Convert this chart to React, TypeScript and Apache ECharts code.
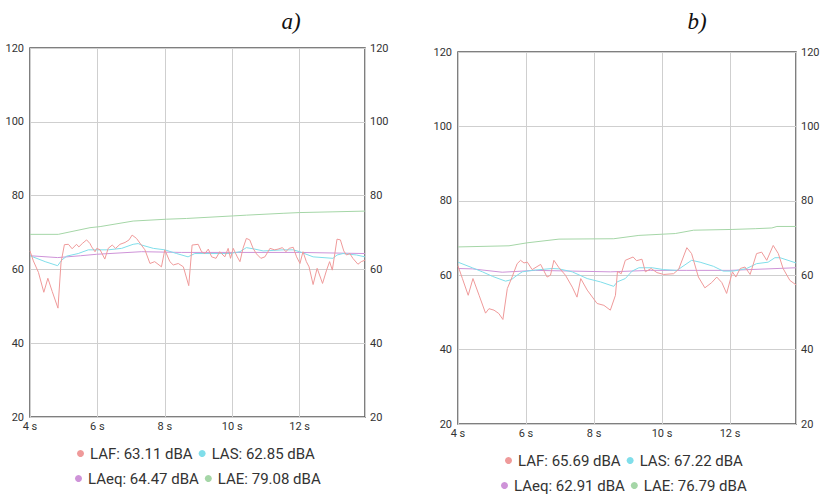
import React, { useEffect, useRef } from "react";
import * as echarts from "echarts";

type P = [number, number];

// ---- chart a) ----
const lafA: P[] = [
  [4.0, 65.0], [4.1, 62.3], [4.25, 59.2], [4.41, 53.8], [4.53, 57.6], [4.66, 54.0], [4.83, 49.5],
  [4.92, 61.8], [5.02, 66.7], [5.14, 66.8], [5.25, 65.6], [5.38, 66.8], [5.45, 66.1], [5.55, 67.0],
  [5.68, 68.0], [5.78, 67.0], [5.83, 66.1], [5.93, 64.8], [5.98, 65.7], [6.08, 65.3], [6.22, 62.8],
  [6.32, 65.7], [6.44, 66.6], [6.54, 65.7], [6.67, 66.8], [6.82, 67.3], [6.94, 68.0], [7.03, 69.3],
  [7.16, 68.4], [7.28, 66.9], [7.41, 65.3], [7.56, 61.6], [7.7, 62.1], [7.9, 60.7], [8.0, 65.3],
  [8.15, 62.1], [8.25, 61.2], [8.4, 61.6], [8.55, 60.7], [8.71, 55.6], [8.81, 66.6], [8.99, 66.8],
  [9.09, 64.8], [9.19, 64.3], [9.29, 65.5], [9.39, 63.4], [9.52, 63.0], [9.63, 64.8], [9.78, 63.4],
  [9.88, 65.7], [9.95, 63.0], [10.03, 65.7], [10.15, 63.4], [10.23, 62.1], [10.32, 65.7],
  [10.42, 68.4], [10.52, 68.0], [10.62, 65.7], [10.72, 64.2], [10.85, 63.0], [10.97, 63.4],
  [11.12, 65.7], [11.26, 65.3], [11.36, 65.5], [11.49, 65.9], [11.59, 64.8], [11.69, 65.7],
  [11.81, 66.0], [11.91, 63.4], [12.01, 61.6], [12.1, 64.8], [12.2, 62.1], [12.28, 60.7],
  [12.4, 55.9], [12.52, 60.3], [12.68, 56.2], [12.8, 59.8], [12.89, 62.1], [12.97, 59.8],
  [13.11, 68.2], [13.21, 68.0], [13.31, 65.0], [13.39, 63.9], [13.49, 64.3], [13.58, 63.0],
  [13.73, 61.4], [13.83, 62.1], [13.94, 62.5],
];
const lasA: P[] = [
  [4.0, 63.7], [4.45, 62.1], [4.82, 61.0], [4.94, 62.5], [5.09, 63.6], [5.43, 64.3], [5.73, 65.3],
  [6.0, 65.3], [6.32, 65.3], [6.72, 65.7], [7.06, 66.8], [7.21, 67.0], [7.31, 66.6], [7.66, 65.7],
  [8.0, 65.3], [8.35, 64.3], [8.69, 63.4], [8.89, 64.3], [9.19, 64.3], [9.93, 64.3], [10.23, 64.8],
  [10.42, 65.9], [10.67, 65.5], [10.92, 65.0], [11.51, 65.3], [11.81, 65.3], [12.0, 64.8],
  [12.4, 63.4], [12.99, 63.0], [13.11, 63.9], [13.29, 64.3], [13.69, 63.9], [13.94, 63.4],
];
const laeqA: P[] = [
  [4.0, 63.7], [4.82, 63.2], [5.5, 63.7], [5.98, 64.1], [7.31, 64.8], [8.5, 64.6], [10.0, 64.6],
  [12.0, 64.6], [13.94, 64.3],
];
const laeA: P[] = [
  [4.0, 69.5], [4.84, 69.5], [5.78, 71.3], [6.08, 71.6], [7.06, 73.1], [8.05, 73.6], [8.64, 73.8],
  [10.03, 74.5], [10.42, 74.7], [11.51, 75.2], [12.0, 75.4], [12.99, 75.6], [13.94, 75.8],
];
const namesA = ["LAF: 63.11 dBA", "LAS: 62.85 dBA", "LAeq: 64.47 dBA", "LAE: 79.08 dBA"];

// ---- chart b) ----
const lafB: P[] = [
  [4.0, 62.5], [4.13, 59.1], [4.3, 54.6], [4.44, 59.1], [4.62, 54.6], [4.81, 49.8], [4.91, 51.0],
  [5.06, 50.6], [5.2, 49.7], [5.32, 48.1], [5.45, 56.4], [5.59, 59.5], [5.74, 63.1], [5.84, 64.0],
  [5.94, 63.3], [6.04, 63.5], [6.18, 61.5], [6.43, 62.9], [6.62, 59.5], [6.72, 60.0], [6.82, 64.0],
  [6.97, 62.0], [7.16, 60.0], [7.36, 56.8], [7.5, 54.1], [7.61, 59.1], [7.8, 56.0], [8.09, 52.4],
  [8.29, 51.9], [8.48, 50.6], [8.63, 54.6], [8.69, 61.0], [8.8, 60.4], [8.92, 64.0], [9.15, 64.9],
  [9.25, 63.9], [9.41, 64.3], [9.51, 60.9], [9.68, 61.8], [9.85, 60.7], [10.05, 60.2],
  [10.34, 60.4], [10.49, 61.6], [10.73, 67.4], [10.87, 65.8], [11.07, 59.5], [11.26, 56.6],
  [11.46, 58.0], [11.61, 59.5], [11.76, 58.0], [11.9, 55.1], [12.07, 60.9], [12.17, 59.5],
  [12.3, 61.8], [12.44, 62.2], [12.59, 60.2], [12.78, 65.8], [12.93, 66.2], [13.08, 64.0],
  [13.27, 68.0], [13.42, 65.8], [13.56, 61.8], [13.76, 58.6], [13.94, 57.4],
];
const lasB: P[] = [
  [4.0, 63.5], [4.42, 62.0], [4.72, 60.9], [5.01, 59.7], [5.4, 58.4], [5.57, 58.8], [5.74, 60.0],
  [5.89, 60.9], [6.18, 61.3], [6.77, 61.8], [6.97, 61.7], [7.36, 60.9], [7.8, 59.1], [8.19, 58.2],
  [8.58, 57.0], [8.68, 58.2], [8.92, 59.1], [9.12, 61.1], [9.32, 62.0], [9.71, 62.0], [10.05, 61.5],
  [10.44, 61.3], [10.87, 64.0], [11.12, 63.5], [11.51, 62.4], [11.8, 61.1], [12.09, 61.1],
  [12.49, 61.8], [12.78, 63.1], [13.12, 63.5], [13.32, 64.7], [13.47, 64.7], [13.94, 63.3],
];
const laeqB: P[] = [
  [4.0, 61.8], [4.42, 61.7], [5.3, 60.8], [6.28, 61.3], [7.36, 61.1], [8.48, 60.9], [9.66, 61.3],
  [10.73, 61.3], [12.0, 61.3], [13.94, 62.0],
];
const laeB: P[] = [
  [4.0, 67.6], [5.5, 67.9], [6.03, 68.7], [6.97, 69.7], [8.58, 69.8], [9.32, 70.7], [10.39, 71.2],
  [10.93, 72.1], [12.06, 72.3], [12.74, 72.5], [13.23, 72.7], [13.38, 73.1], [13.94, 73.1],
];
const namesB = ["LAF: 65.69 dBA", "LAS: 67.22 dBA", "LAeq: 62.91 dBA", "LAE: 76.79 dBA"];

const titles = ["a)", "b)"];
const colors = ["#ef9a9a", "#80deea", "#ce93d8", "#a5d6a7"];
const yMin = 20;
const yMax = 120;
const xMin = 4;
const xMax = 13.94;

const FONT = "Roboto";

export default function App() {
  const ref = useRef<HTMLDivElement>(null);
  useEffect(() => {
    if (!ref.current) return;
    const chart = echarts.init(ref.current, undefined, { renderer: "svg" });
    const grids = [
      { left: 30, top: 48, width: 335, height: 369 },
      { left: 458, top: 52, width: 338, height: 372 },
    ];
    const xAxis: any[] = [];
    const yAxis: any[] = [];
    const axisLabel = { color: "#333", fontSize: 11, fontFamily: FONT };
    grids.forEach((_, i) => {
      xAxis.push({
        type: "value",
        gridIndex: i,
        min: xMin,
        max: xMax,
        interval: 2,
        axisLine: { show: false },
        axisTick: { show: false },
        splitLine: { show: true, lineStyle: { color: "#cfcfcf", width: 1 } },
        axisLabel: { ...axisLabel, margin: 4, showMaxLabel: false, formatter: "{value} s" },
      });
      yAxis.push({
        type: "value",
        gridIndex: i,
        min: yMin,
        max: yMax,
        interval: 20,
        position: "left",
        axisLine: { show: false },
        axisTick: { show: false },
        splitLine: { show: true, lineStyle: { color: "#cfcfcf", width: 1 } },
        axisLabel: { ...axisLabel, margin: 6 },
      });
      yAxis.push({
        type: "value",
        gridIndex: i,
        min: yMin,
        max: yMax,
        interval: 20,
        position: "right",
        axisLine: { show: false },
        axisTick: { show: false },
        splitLine: { show: false },
        axisLabel: { ...axisLabel, margin: 5 },
      });
    });
    const dataA = [lafA, lasA, laeqA, laeA];
    const dataB = [lafB, lasB, laeqB, laeB];
    const series: any[] = [];
    [dataA, dataB].forEach((set, gi) => {
      const names = gi === 0 ? namesA : namesB;
      set.forEach((d, si) => {
        series.push({
          type: "line",
          name: names[si],
          xAxisIndex: gi,
          yAxisIndex: gi * 2,
          data: d,
          showSymbol: false,
          symbol: "none",
          color: colors[si],
          lineStyle: { color: colors[si], width: 1 },
          z: 3 + (3 - si),
        });
      });
    });
    const legendBase = {
      icon: "circle",
      itemWidth: 9,
      itemHeight: 7,
      itemGap: 6,
      padding: 0,
      selectedMode: false,
      textStyle: { color: "#333", fontSize: 15, fontFamily: FONT },
    };
    const legend = [
      { ...legendBase, data: namesA.slice(0, 2), left: 77, top: 446 },
      { ...legendBase, data: namesA.slice(2, 4), left: 75, top: 471 },
      { ...legendBase, data: namesB.slice(0, 2), left: 505, top: 453 },
      { ...legendBase, data: namesB.slice(2, 4), left: 501, top: 478 },
    ];
    chart.setOption({
      animation: false,
      backgroundColor: "#ffffff",
      grid: grids.map((g) => ({
        ...g,
        show: true,
        borderColor: "#555",
        borderWidth: 1.5,
        backgroundColor: "transparent",
        containLabel: false,
      })),
      xAxis,
      yAxis,
      legend,
      series,
      graphic: [
        {
          type: "text",
          x: 291,
          y: 21,
          style: {
            text: titles[0],
            font: "italic 23px 'Liberation Serif', 'DejaVu Serif', serif",
            fill: "#111",
            textAlign: "center",
            textVerticalAlign: "middle",
          },
        },
        {
          type: "text",
          x: 697,
          y: 21,
          style: {
            text: titles[1],
            font: "italic 23px 'Liberation Serif', 'DejaVu Serif', serif",
            fill: "#111",
            textAlign: "center",
            textVerticalAlign: "middle",
          },
        },
      ],
    });
    return () => chart.dispose();
  }, []);
  return (
    <div
      ref={ref}
      style={{ position: "fixed", left: 0, top: 0, width: 823, height: 494, background: "#fff" }}
    />
  );
}
